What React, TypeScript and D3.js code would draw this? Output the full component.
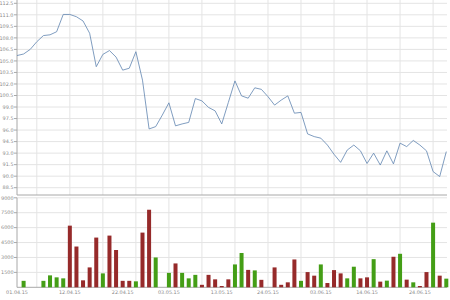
import React from 'react';
import * as d3 from 'd3';

// Closing price, one value per point (first point sits on the axis)
const priceValues = [
  105.7, 105.9, 106.5, 107.5, 108.3, 108.4, 108.8, 111.05, 111.05, 110.75,
  110.2, 108.6, 104.25, 105.85, 106.35, 105.5, 103.8, 104.05, 106.2, 102.5,
  96.15, 96.45, 97.95, 99.55, 96.55, 96.8, 97.0, 100.1, 99.8, 98.95,
  98.5, 96.8, 99.6, 102.4, 100.45, 100.15, 101.5, 101.3, 100.35, 99.25,
  99.9, 100.45, 98.2, 98.3, 95.5, 95.15, 94.95, 94.05, 92.85, 91.8,
  93.4, 94.05, 93.3, 91.65, 93.0, 91.45, 93.3, 91.6, 94.3, 93.85,
  94.65, 94.05, 93.3, 90.6, 89.95, 93.2,
];

// Volume per trading day
const volumeValues = [
  650, 0, 0, 650, 1200, 1000, 900, 6200, 4100, 700,
  2000, 5000, 1400, 5200, 3750, 650, 650, 600, 5500, 7800,
  3000, 0, 1450, 2400, 1450, 900, 1250, 250, 1250, 800,
  130, 800, 2300, 3450, 1750, 1700, 750, 0, 2000, 250,
  500, 2800, 650, 1530, 1170, 2300, 430, 1730, 1400, 900,
  2070, 900, 1000, 2830, 570, 670, 3070, 3370, 770, 500,
  130, 1530, 6500, 1170, 870,
];
// 1 = up day (green), 0 = down day (red)
const volumeUp = [
  1, 0, 0, 1, 1, 1, 1, 0, 0, 0,
  0, 0, 1, 0, 0, 0, 0, 1, 0, 0,
  1, 0, 1, 0, 1, 1, 1, 0, 0, 0,
  0, 0, 1, 1, 0, 1, 0, 0, 0, 0,
  0, 0, 1, 0, 0, 1, 0, 0, 0, 1,
  1, 0, 0, 1, 0, 1, 0, 1, 0, 1,
  0, 0, 1, 0, 1,
];

const priceTicks = [88.5, 90, 91.5, 93, 94.5, 96, 97.5, 99, 100.5, 102, 103.5, 105, 106.5, 108, 109.5, 111, 112.5];
const volumeTicks = [1500, 3000, 4500, 6000, 7500, 9000];
const xTickIndex = [0, 8, 16, 23, 31, 38, 46, 53, 61];
const xTickLabels = ['01.04.15', '12.04.15', '22.04.15', '03.05.15', '13.05.15', '24.05.15', '03.06.15', '14.06.15', '24.06.15'];
const xGridIndex = [3, 8, 13, 18, 23, 28, 33, 38, 43, 48, 53, 58, 63];

const W = 450;
const H = 300;
const LEFT = 17;
const RIGHT = 447;
const TOP_Y0 = 0;
const TOP_Y1 = 195;
const BOT_Y0 = 197.8;
const BOT_Y1 = 287.3;

const FONT = 'DejaVu Sans';
const TEXT = '#8a8a8a';
const GRID = '#e4e4e4';
const AXIS = '#a8a8a8';

export default function App() {
  const x = d3.scaleLinear().domain([0, 65]).range([LEFT, 446.3]);
  const yP = d3.scaleLinear().domain([88.5, 112.5]).range([187.7, 3.3]);
  const yV = d3.scaleLinear().domain([0, 9000]).range([BOT_Y1, BOT_Y0]);

  const line = d3
    .line<number>()
    .x((_, i) => x(i))
    .y((d) => yP(d));

  const barW = 4;

  return (
    <svg
      width={W}
      height={H}
      style={{ position: 'absolute', left: 0, top: 0, background: '#fff' }}
      fontFamily={FONT}
    >
      {/* top panel grid */}
      {priceTicks.map((t) => (
        <line key={'pg' + t} x1={LEFT} x2={RIGHT} y1={yP(t)} y2={yP(t)} stroke={GRID} strokeWidth={1} />
      ))}
      {xGridIndex.map((g) => (
        <line key={'vg' + g} x1={x(g)} x2={x(g)} y1={TOP_Y0} y2={TOP_Y1} stroke={GRID} strokeWidth={1} />
      ))}
      {/* bottom panel grid */}
      {volumeTicks.map((t) => (
        <line key={'vgv' + t} x1={LEFT} x2={RIGHT} y1={yV(t)} y2={yV(t)} stroke={GRID} strokeWidth={1} />
      ))}
      {xGridIndex.map((g) => (
        <line key={'vgb' + g} x1={x(g)} x2={x(g)} y1={BOT_Y0} y2={BOT_Y1} stroke={GRID} strokeWidth={1} />
      ))}

      {/* axes */}
      <line x1={LEFT} x2={LEFT} y1={TOP_Y0} y2={TOP_Y1} stroke={AXIS} />
      <line x1={LEFT} x2={RIGHT} y1={TOP_Y1} y2={TOP_Y1} stroke={AXIS} />
      <line x1={LEFT} x2={LEFT} y1={BOT_Y0} y2={BOT_Y1} stroke={AXIS} />
      <line x1={LEFT} x2={RIGHT} y1={BOT_Y1} y2={BOT_Y1} stroke={AXIS} />

      {/* price axis labels */}
      {priceTicks.map((t) => (
        <g key={'pl' + t}>
          <line x1={LEFT - 3} x2={LEFT} y1={yP(t)} y2={yP(t)} stroke={AXIS} />
          <text x={LEFT - 3.5} y={yP(t)} dy="0.35em" textAnchor="end" fontSize={4.9} fill={TEXT}>
            {t.toFixed(1)}
          </text>
        </g>
      ))}
      {/* volume axis labels */}
      {volumeTicks.map((t) => (
        <g key={'vl' + t}>
          <line x1={LEFT - 3} x2={LEFT} y1={yV(t)} y2={yV(t)} stroke={AXIS} />
          <text x={LEFT - 3.5} y={yV(t)} dy="0.35em" textAnchor="end" fontSize={4.9} fill={TEXT}>
            {t}
          </text>
        </g>
      ))}

      {/* volume bars */}
      {volumeValues.map((v, i) =>
        v > 0 ? (
          <rect
            key={'b' + i}
            x={x(i + 1) - barW / 2}
            y={yV(v)}
            width={barW}
            height={yV(0) - yV(v)}
            fill={volumeUp[i] ? '#449e16' : '#962a2a'}
          />
        ) : null
      )}

      {/* price line */}
      <path d={line(priceValues) || ''} fill="none" stroke="#5f84b0" strokeWidth={0.8} />

      {/* x labels */}
      {xTickIndex.map((p, k) => (
        <text key={'xl' + k} x={x(p)} y={293.5} textAnchor="middle" fontSize={4.9} fill={TEXT}>
          {xTickLabels[k]}
        </text>
      ))}
    </svg>
  );
}
